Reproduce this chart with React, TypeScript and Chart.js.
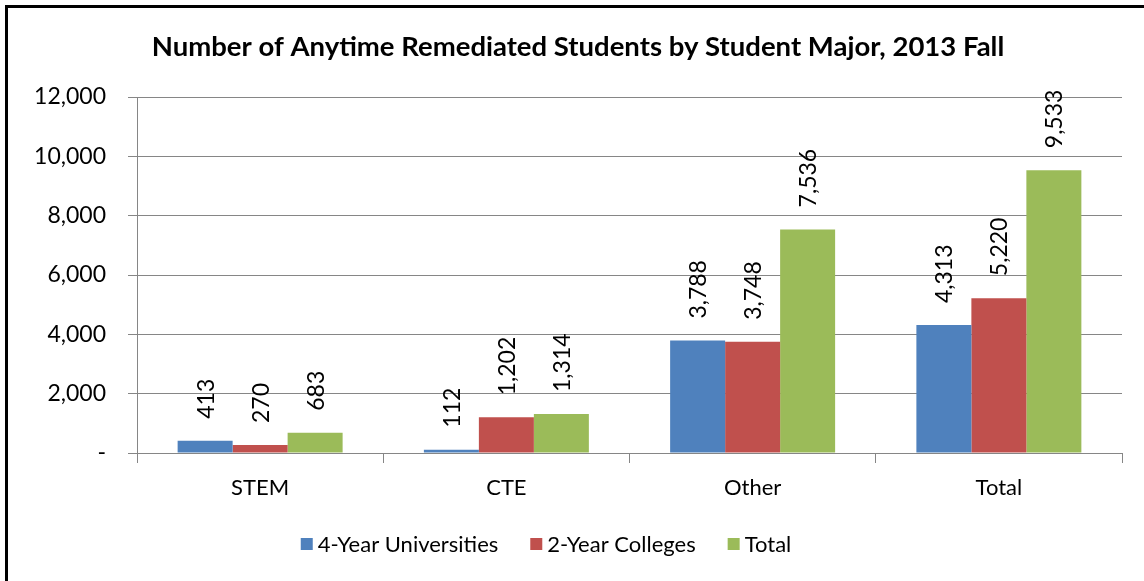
import React, { useEffect, useRef } from "react";
import { Chart, registerables } from "chart.js";

Chart.register(...registerables);

const categories = ["STEM", "CTE", "Other", "Total"];
const fourYear = [413, 112, 3788, 4313];
const twoYear = [270, 1202, 3748, 5220];
const totals = [683, 1314, 7536, 9533];
const seriesNames = ["4-Year Universities", "2-Year Colleges", "Total"];
const seriesColors = ["#4F81BD", "#C0504D", "#9BBB59"];
const titleText = "Number of Anytime Remediated Students by Student Major, 2013 Fall";
const FONT = "Lato, 'Open Sans', sans-serif";

const fmt = (v: number) => v.toLocaleString("en-US");

const barLabels = {
  id: "barLabels",
  afterDatasetsDraw(chart: any) {
    const ctx = chart.ctx;
    ctx.save();
    ctx.font = `23px ${FONT}`;
    ctx.fillStyle = "#000";
    ctx.textAlign = "left";
    ctx.textBaseline = "middle";
    chart.data.datasets.forEach((ds: any, di: number) => {
      const meta = chart.getDatasetMeta(di);
      meta.data.forEach((el: any, i: number) => {
        ctx.save();
        ctx.translate(el.x, el.y - 22);
        ctx.rotate(-Math.PI / 2);
        ctx.fillText(fmt(ds.data[i]), 0, 1);
        ctx.restore();
      });
    });
    ctx.restore();
  },
};

const titleAndLegend = {
  id: "titleAndLegend",
  afterDraw(chart: any) {
    const ctx = chart.ctx;
    ctx.save();
    // title
    ctx.font = `bold 27.5px ${FONT}`;
    ctx.fillStyle = "#000";
    ctx.textAlign = "center";
    ctx.textBaseline = "middle";
    ctx.fillText(titleText, 578, 47);
    // legend
    ctx.font = `22px ${FONT}`;
    ctx.textAlign = "left";
    const box = 12;
    const gapBoxText = 5;
    const gapItems = 32;
    const widths = chart.data.datasets.map((ds: any) => ctx.measureText(ds.label).width);
    let total = 0;
    widths.forEach((w: number, i: number) => {
      total += box + gapBoxText + w + (i < widths.length - 1 ? gapItems : 0);
    });
    let x = 546 - total / 2;
    const cy = 545;
    chart.data.datasets.forEach((ds: any, i: number) => {
      ctx.fillStyle = ds.backgroundColor;
      ctx.fillRect(x, cy - 7, box, box);
      ctx.fillStyle = "#000";
      ctx.fillText(ds.label, x + box + gapBoxText, cy);
      x += box + gapBoxText + widths[i] + gapItems;
    });
    ctx.restore();
  },
};

export default function App() {
  const ref = useRef<HTMLCanvasElement | null>(null);
  useEffect(() => {
    document.body.style.margin = "0";
    const chart = new Chart(ref.current!, {
      type: "bar",
      data: {
        labels: categories,
        datasets: [fourYear, twoYear, totals].map((d, i) => ({
          label: seriesNames[i],
          data: d,
          backgroundColor: seriesColors[i],
          borderWidth: 0,
          categoryPercentage: 0.67,
          barPercentage: 1,
        })),
      },
      options: {
        animation: false,
        responsive: false,
        maintainAspectRatio: false,
        layout: { padding: { left: 0, right: 22, top: 97, bottom: 60 } },
        plugins: {
          title: { display: false },
          legend: { display: false },
          tooltip: { enabled: false },
        },
        scales: {
          x: {
            afterFit: (s: any) => {
              s.height = 581 - 453 - 60;
            },
            grid: {
              offset: true,
              drawOnChartArea: false,
              color: "#868686",
              tickLength: 10,
            },
            border: { color: "#868686" },
            ticks: { color: "#000", font: { family: FONT, size: 22 }, padding: 12 },
          },
          y: {
            min: 0,
            max: 12000,
            afterFit: (s: any) => {
              s.width = 137;
            },
            grid: { color: "#868686", tickLength: 9 },
            border: { color: "#868686" },
            ticks: {
              stepSize: 2000,
              color: "#000",
              font: { family: FONT, size: 23 },
              padding: 22,
              callback: (v: any) => (v === 0 ? "-" : fmt(Number(v))),
            },
          },
        },
      },
      plugins: [barLabels, titleAndLegend],
    });
    return () => chart.destroy();
  }, []);
  return (
    <div style={{ position: "relative", width: 1144, height: 581, overflow: "hidden", background: "#fff" }}>
      <canvas ref={ref} width={1144} height={581} style={{ display: "block" }} />
      <div
        style={{
          position: "absolute",
          left: 5,
          top: 5,
          width: 1140,
          height: 580,
          borderLeft: "3px solid #000",
          borderTop: "3px solid #000",
          pointerEvents: "none",
        }}
      />
    </div>
  );
}
